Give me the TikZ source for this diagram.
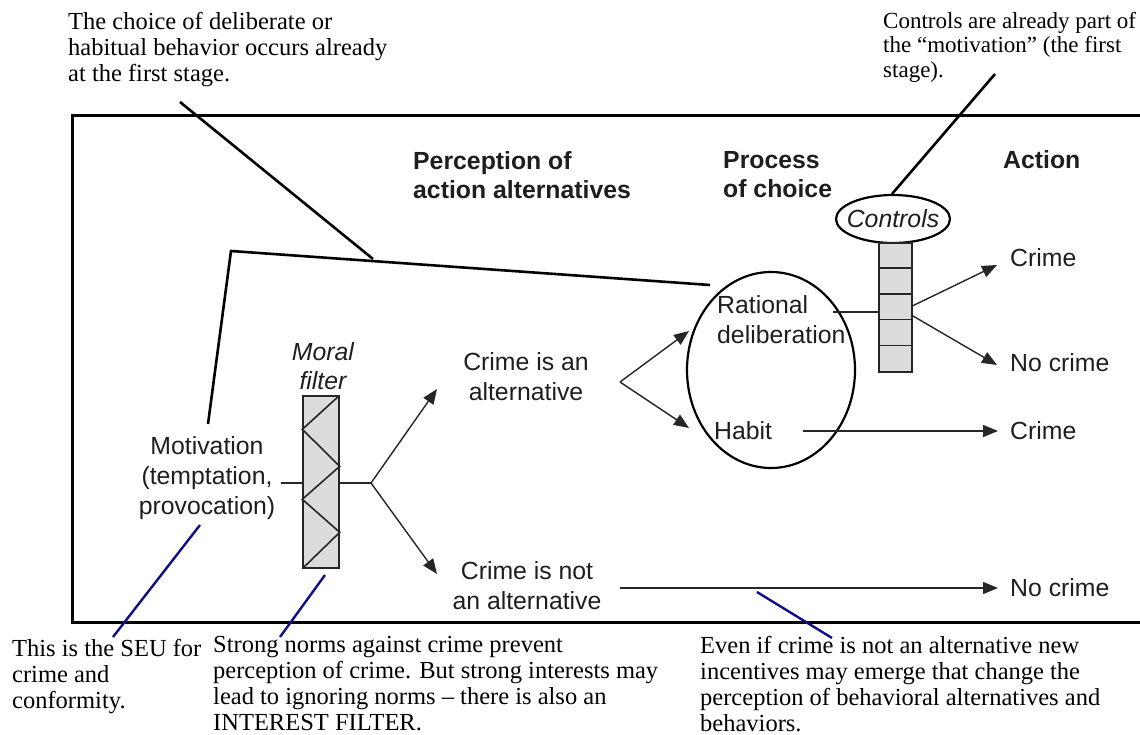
\documentclass[tikz,border=0pt]{standalone}
\usepackage{fontspec}
\setmainfont{Liberation Serif}
\setsansfont{Liberation Sans}
\usetikzlibrary{arrows.meta,calc}
\definecolor{inkgray}{HTML}{1E1E1E}
\definecolor{linegray}{HTML}{262626}
\definecolor{boxfill}{HTML}{DCDCDC}
\definecolor{noteblue}{HTML}{0E0E86}
\tikzset{
  lbl/.style={font=\sffamily\fontsize{24.8}{30}\selectfont, text=inkgray, inner sep=0pt},
  headtxt/.style={font=\sffamily\bfseries\fontsize{24.8}{29}\selectfont, text=inkgray, inner sep=0pt, align=left, anchor=west},
  note/.style={font=\rmfamily\fontsize{24.5}{26}\selectfont, inner sep=0pt, align=left, anchor=west},
  flow/.style={draw=linegray, line width=1.4pt},
  flowarrow/.style={flow, -{Triangle[length=15pt,width=12pt]}},
  pointer/.style={draw=black, line width=2.6pt},
  bluepointer/.style={draw=noteblue, line width=2.4pt},
  cellbox/.style={draw=linegray, fill=boxfill, line width=1.4pt, inner sep=0pt}
}
\begin{document}
\begin{tikzpicture}[x=1pt,y=-1pt]
\useasboundingbox (0,0) rectangle (1140,735);

% frame (its right side lies beyond the page edge)
\draw[line width=3pt] (1145,116) -- (72,116) -- (72,622) -- (1145,622);

% column headings
\node[headtxt] (hPerc) at (413,175) {Perception of\\action alternatives};
\node[headtxt] (hProc) at (723,175) {Process\\of choice};
\node[headtxt] (hAct)  at (1003,160) {Action};

% motivation and moral filter
\node[lbl, align=center] (mot) at (207,478) {Motivation\\(temptation,\\provocation)};
\node[lbl, align=center, font=\sffamily\itshape\fontsize{24.8}{29}\selectfont] (moral) at (323,366) {Moral\\filter};
\node[cellbox, minimum width=36pt, minimum height=172pt] (filter) at (321,482) {};
\draw[line width=1.6pt, linegray]
  (filter.north east) -- ([yshift=-34pt]filter.north west)
  -- ([yshift=-71pt]filter.north east) -- ([yshift=-104pt]filter.north west)
  -- ([yshift=-137pt]filter.north east) -- (filter.south west);

% perception of alternatives
\node[lbl, align=center] (alt) at (526,377) {Crime is an\\alternative};
\node[lbl, align=center] (notalt) at (527,586) {Crime is not\\an alternative};

\coordinate (motR) at (281,483);
\coordinate (j1) at (371,483);
\coordinate (altIn) at (437,389);
\coordinate (notIn) at (437,574);
\draw[flow] (motR) -- (filter.west |- motR);
\draw[flow] (filter.east |- j1) -- (j1);
\draw[flowarrow] (j1) -- (altIn);
\draw[flowarrow] (j1) -- (notIn);

% process of choice
\coordinate (choice) at (771,370);
\draw[line width=2.2pt] (choice) ellipse (84 and 98);
\node[lbl, align=left, anchor=west] (rat) at (717,320) {Rational\\deliberation};
\node[lbl, anchor=west] (habit) at (714,431) {Habit};

\coordinate (j2) at (620,382);
\coordinate (ratIn) at (689,331);
\coordinate (habIn) at (689,428);
\draw[flowarrow] (j2) -- (ratIn);
\draw[flowarrow] (j2) -- (habIn);

% controls
\node[lbl, font=\sffamily\itshape\fontsize{24.8}{29}\selectfont] (ctl) at (893,219) {Controls};
\draw[line width=2.2pt] (ctl.center) ellipse (57 and 24);
\node[cellbox, minimum width=33pt, minimum height=129pt] (stack) at (895.5,307.5) {};
\foreach \k in {1,2,3,4}
  \draw[line width=1.4pt, linegray]
    ([yshift={-25.8pt*\k}]stack.north west) -- ([yshift={-25.8pt*\k}]stack.north east);

% actions
\node[lbl, anchor=west] (crimeA) at (1010,258) {Crime};
\node[lbl, anchor=west] (nocrimeA) at (1010,363) {No crime};
\node[lbl, anchor=west] (crimeB) at (1010,431) {Crime};
\node[lbl, anchor=west] (nocrimeB) at (1010,588) {No crime};

\coordinate (ratOut) at (833,312);
\coordinate (habOut) at (803,431);
\coordinate (notOut) at (620,588);
\draw[flow] (ratOut) -- (stack.west |- ratOut);
\draw[flowarrow] ([yshift=-63.5pt]stack.north east) -- (997,265) coordinate (crimeAIn);
\draw[flowarrow] ([yshift=-73.5pt]stack.north east) -- (997,365) coordinate (nocrimeAIn);
\draw[flowarrow] (habOut) -- (998,431) coordinate (crimeBIn);
\draw[flowarrow] (notOut) -- (998,588) coordinate (nocrimeBIn);

% remarks
\node[note] (nChoice) at (68,50) {The choice of deliberate or\\habitual behavior occurs already\\at the first stage.};
\node[note, font=\rmfamily\fontsize{23}{24.5}\selectfont] (nCtl) at (883,47) {Controls are already part of\\the “motivation” (the first\\stage).};
\node[note] (nSeu) at (12,677) {This is the SEU for\\crime and\\conformity.};
\node[note] (nNorm) at (213,684) {Strong norms against crime prevent\\perception of crime. But strong interests may\\lead to ignoring norms – there is also an\\INTEREST FILTER.};
\node[note] (nEven) at (700,684) {Even if crime is not an alternative new\\incentives may emerge that change the\\perception of behavioral alternatives and\\behaviors.};

% pointers from the remarks
\coordinate (pA) at (180,102);
\coordinate (pB) at (373,259);
\coordinate (pC) at (208,424);
\coordinate (pD) at (231,251);
\coordinate (pE) at (710,285);
\coordinate (pF) at (995,74);
\coordinate (pG) at (892,194);
\draw[pointer] (pA) -- (pB);
\draw[pointer] (pC) -- (pD) -- (pE);
\draw[pointer] (pF) -- (pG);

\coordinate (bA) at (200,525);
\coordinate (bB) at (113,637);
\coordinate (bC) at (325,575);
\coordinate (bD) at (280,637);
\coordinate (bE) at (757,592);
\coordinate (bF) at (832,638);
\draw[bluepointer] (bA) -- (bB);
\draw[bluepointer] (bC) -- (bD);
\draw[bluepointer] (bE) -- (bF);
\end{tikzpicture}
\end{document}
